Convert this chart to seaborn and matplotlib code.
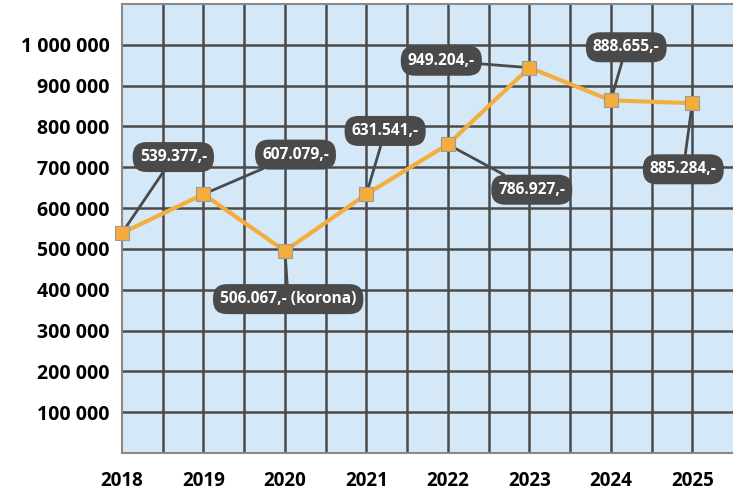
import seaborn as sns
import matplotlib.pyplot as plt
import pandas as pd
import numpy as np

# data
years = [2018, 2019, 2020, 2021, 2022, 2023, 2024, 2025]
values = [539000, 634000, 495000, 634000, 756000, 944000, 864000, 857000]
labels = ["539.377,-", "607.079,-", "506.067,- (korona)", "631.541,-",
          "786.927,-", "949.204,-", "888.655,-", "885.284,-"]
# where each label box sits (year, value)
label_x = [2018.63, 2020.13, 2020.04, 2021.23, 2023.03, 2021.92, 2024.19, 2024.89]
label_y = [725000, 731000, 377000, 789000, 645000, 961000, 994000, 695000]
yticks = [100000, 200000, 300000, 400000, 500000, 600000, 700000, 800000, 900000, 1000000]

sns.set_theme(style="white")
plt.rcParams["font.family"] = ["Open Sans", "DejaVu Sans"]

df = pd.DataFrame({"year": years, "value": values})

fig = plt.figure(figsize=(7.33, 4.90), dpi=100)
ax = fig.add_axes([122 / 733, 37 / 490, 611 / 733, 449 / 490])
ax.set_facecolor("#d5e8f7")

grid_col = "#4a4a4a"
for gx in np.arange(2018.5, 2025.5, 0.5):
    ax.axvline(gx, color=grid_col, lw=1.8, zorder=1)
for gy in yticks:
    ax.axhline(gy, color=grid_col, lw=1.8, zorder=1)

sns.lineplot(data=df, x="year", y="value", ax=ax, color="#f4ae3d", lw=3,
             marker="s", markersize=10, markerfacecolor="#f5ac3b",
             markeredgecolor="#9a9a9a", markeredgewidth=0.8, zorder=5,
             clip_on=False)

for x, y, lab, tx, ty in zip(years, values, labels, label_x, label_y):
    ax.annotate(lab, xy=(x, y), xytext=(tx, ty), ha="center", va="center",
                color="white", fontsize=11.2, fontweight="bold",
                bbox=dict(boxstyle="round,pad=0.45,rounding_size=0.9",
                          fc="#4a4a4a", ec="none"),
                arrowprops=dict(arrowstyle="-", color="#4a4a4a", lw=2,
                                shrinkA=0, shrinkB=0),
                zorder=4, annotation_clip=False)

ax.set_xlim(2018, 2025.5)
ax.set_ylim(0, 1100000)
ax.set_xticks(years)
ax.set_xticklabels([str(y) for y in years])
ax.set_yticks(yticks)
ax.set_yticklabels([f"{v:,}".replace(",", " ") for v in yticks])
ax.tick_params(axis="y", length=0, labelsize=14, colors="black", pad=9)
ax.tick_params(axis="x", length=0, labelsize=13.5, colors="black", pad=13)
for t in ax.get_xticklabels() + ax.get_yticklabels():
    t.set_fontweight("bold")
ax.set_xlabel("")
ax.set_ylabel("")
for side in ["left", "bottom", "top"]:
    ax.spines[side].set_color("#8a8a8a")
    ax.spines[side].set_linewidth(1.5)
ax.spines["right"].set_visible(False)

fig.savefig("out.png", dpi=100)
